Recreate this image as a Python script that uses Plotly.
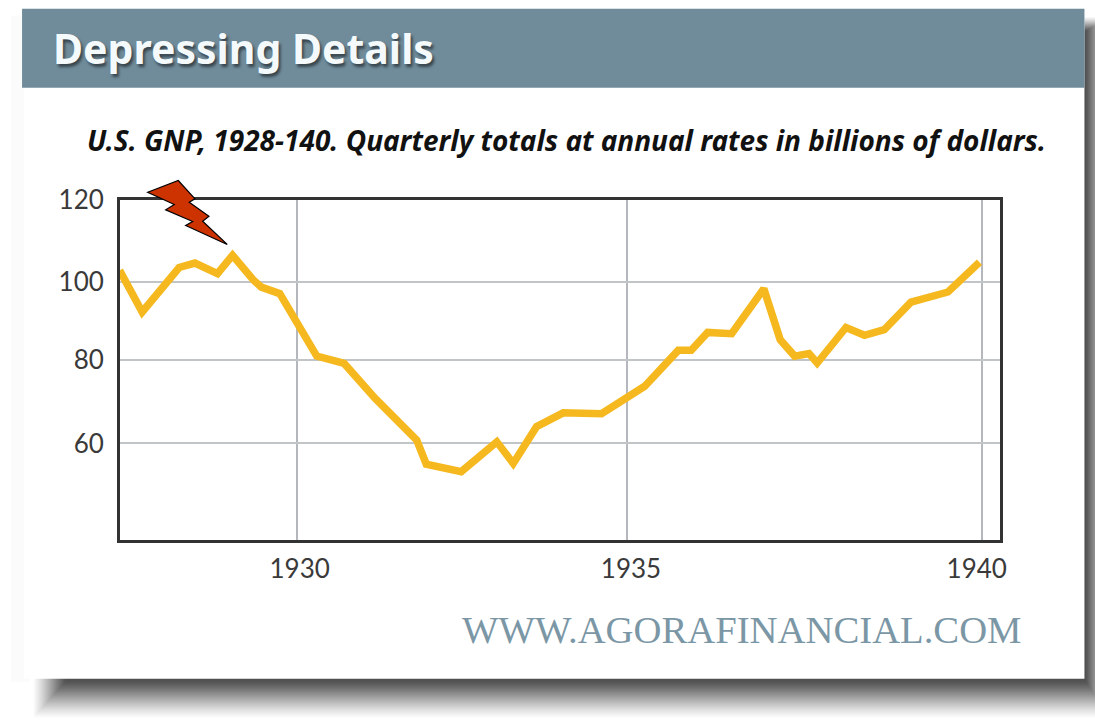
import plotly.graph_objects as go

# Data
years = [1927.41, 1927.74, 1928.28, 1928.51, 1928.84, 1929.06, 1929.36, 1929.48, 1929.75,
         1930.29, 1930.69, 1931.14, 1931.75, 1931.89, 1932.40, 1932.92, 1933.16, 1933.50,
         1933.89, 1934.45, 1935.08, 1935.57, 1935.76, 1936.00, 1936.35, 1936.82, 1937.06,
         1937.27, 1937.48, 1937.60, 1938.02, 1938.29, 1938.58, 1938.97, 1939.51, 1939.97]
gnp = [102.4, 92.2, 103.1, 104.2, 101.6, 106.1, 100.1, 98.3, 96.7,
       81.4, 79.6, 71.1, 60.8, 54.9, 53.1, 60.4, 55.1, 64.1,
       67.5, 67.3, 74.0, 82.8, 82.8, 87.2, 86.9, 97.9, 85.4,
       81.4, 82.0, 79.7, 88.4, 86.5, 87.9, 94.6, 97.1, 104.4]
y_ticks = [60, 80.55, 99.46, 119.6]
y_labels = ["60", "80", "100", "120"]
x_grid = [1930, 1934.82, 1940]
x_label_pos = [1930.04, 1934.88, 1939.93]
x_labels = ["1930", "1935", "1940"]

W, H = 1095, 723
L, R, T, B = 120, 1000.5, 199.5, 540
x_range = [1930 + (L - 297) / 68.5, 1930 + (R - 297) / 68.5]
y_range = [60 + (443.3 - B) / 4.088, 60 + (443.3 - T) / 4.088]


def px(x):
    return (x - L) / (R - L)


def py(y):
    return (B - y) / (B - T)


def rect(x0, y0, x1, y1, **kw):
    return dict(type="rect", xref="paper", yref="paper", x0=px(x0), x1=px(x1),
                y0=py(y1), y1=py(y0), layer="below", **kw)


shapes = [rect(11, 15, 30, 682, fillcolor="#fbfbfb", line_width=0)]
for i in range(38):
    shapes.append(rect(33 + i * 0.9, 16 + i * 0.4, 1111 - i * 0.68, 718 - i,
                       fillcolor="#1c1c1c", opacity=0.012 + 0.045 * i / 38, line_width=0))
shapes.append(rect(24, 8, 1085, 679, fillcolor="#ffffff", line_width=0))
shapes.append(rect(22, 8, 1085, 87, fillcolor="#708c9b", line_width=0))

bolt = [(147.7, 191.7), (178.3, 180), (195, 198.3), (189.3, 201.7), (209, 215.7), (202.7, 220.7),
        (227.3, 244), (185.7, 225), (192.7, 221), (165.7, 209.3), (174.3, 204)]
path = "M " + " L ".join(f"{px(a):.5f},{py(b):.5f}" for a, b in bolt) + " Z"
shapes.append(dict(type="path", xref="paper", yref="paper", path=path, layer="above",
                   fillcolor="#cc3300", line=dict(color="#000000", width=1.2)))

fig = go.Figure()
fig.add_trace(go.Scatter(x=years, y=gnp, mode="lines", cliponaxis=False, showlegend=False,
                         line=dict(color="#f5b91f", width=7.5), hoverinfo="skip"))
# carries the year labels, which sit a little off their grid lines in the reference
fig.add_trace(go.Scatter(x=x_label_pos, y=[60, 60, 60], xaxis="x2", mode="markers",
                         marker=dict(opacity=0), showlegend=False, hoverinfo="skip"))


def ann(text, x, y, size, color, family, **kw):
    return dict(text=text, xref="paper", yref="paper", x=px(x), y=py(y), showarrow=False,
                xanchor=kw.pop("xanchor", "left"), yanchor="middle",
                font=dict(size=size, color=color, family=family, **kw))


fig.update_layout(
    width=W, height=H, margin=dict(l=L, r=W - R, t=T, b=H - B),
    paper_bgcolor="#ffffff", plot_bgcolor="rgba(0,0,0,0)", shapes=shapes,
    annotations=[
        ann("Depressing Details", 51, 47, 41, "#f4f9fb", "Noto Sans", weight="bold",
            shadow="2px 3px 3px #37444c"),
        ann("<b><i>U.S. GNP, 1928-140. Quarterly totals at annual rates in billions of dollars.</i></b>",
            85, 139, 28, "#111111", "Noto Sans"),
        ann("WWW.AGORAFINANCIAL.COM", 460, 630, 38.7, "#7b97a6", "Liberation Serif"),
    ],
    xaxis=dict(range=x_range, tickmode="array", tickvals=x_grid,
               showticklabels=False, ticks="", showgrid=True, gridcolor="#b4b8bc", gridwidth=2,
               zeroline=False, showline=True, linecolor="#333333", linewidth=3, mirror=True),
    xaxis2=dict(range=x_range, overlaying="x", side="bottom", tickmode="array",
                tickvals=x_label_pos, ticktext=x_labels, ticks="outside", ticklen=6,
                tickcolor="rgba(0,0,0,0)", showgrid=False, zeroline=False, showline=False,
                tickfont=dict(family="Lato", size=26, color="#3a3a3a")),
    yaxis=dict(range=y_range, tickmode="array", tickvals=y_ticks, ticktext=y_labels,
               ticks="outside", ticklen=8, tickcolor="rgba(0,0,0,0)", showgrid=True,
               gridcolor="#c2c5c8", gridwidth=2, zeroline=False, showline=True,
               linecolor="#333333", linewidth=3, mirror=True,
               tickfont=dict(family="Lato", size=26, color="#3a3a3a")),
)

fig.write_html("out.html", config=dict(displayModeBar=False),
               post_script="document.body.style.margin='0';document.body.style.overflow='hidden';")
